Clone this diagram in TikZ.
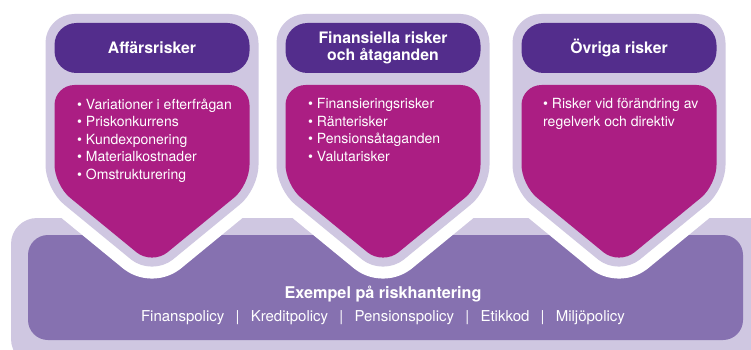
\documentclass[tikz,border=0pt]{standalone}
\usepackage{fontspec}
\setmainfont{TeX Gyre Heros}
\usetikzlibrary{positioning}

\definecolor{hdrpurple}{RGB}{83,45,140}
\definecolor{riskmagenta}{RGB}{171,30,131}
\definecolor{lavlight}{RGB}{207,199,225}
\definecolor{basepurple}{RGB}{134,113,176}

% outline of one shield, centred at x = #1
\newcommand{\shieldoutline}[1]{(#1-97.5,23) -- (#1+97.5,23) -- (#1+97.5,185) -- (#1,265) -- (#1-97.5,185) -- cycle}
\newcommand{\riskoutline}[1]{(#1-97.5,85) -- (#1+97.5,85) -- (#1+97.5,185) -- (#1,265) -- (#1-97.5,185) -- cycle}
\newcommand{\sep}{\hspace{0.75em}|\hspace{0.75em}}

\tikzset{
  gapline/.style={draw=white, line width=42pt, line join=round, rounded corners=20pt},
  shieldrim/.style={fill=lavlight, draw=lavlight, line width=18pt, line join=round, rounded corners=20pt},
  riskbox/.style={fill=riskmagenta, rounded corners=20pt},
  hdrbox/.style={fill=hdrpurple, rounded corners=22pt, minimum width=195pt, minimum height=50pt,
    inner sep=0pt, text=white, align=center, font=\bfseries\fontsize{15.8}{16.5}\selectfont},
  bulletlist/.style={anchor=north west, inner sep=0pt, align=left, text=white,
    font=\fontsize{14}{17.5}\selectfont}
}

\begin{document}
\begin{tikzpicture}[x=1pt, y=-1pt]
  \useasboundingbox (0,0) rectangle (751,350);
  \clip (0,0) rectangle (751,350);

  % base band
  \fill[lavlight, rounded corners=26pt] (11,218) rectangle (775,365);
  \fill[basepurple, rounded corners=20pt] (28,235) rectangle (743,340);

  % shields
  \foreach \c in {152,383,619}
    \draw[gapline] \shieldoutline{\c};
  \foreach \c in {152,383,619}
    \filldraw[shieldrim] \shieldoutline{\c};
  \foreach \c in {152,383,619}
    \fill[riskbox] \riskoutline{\c};

  \node[hdrbox] (affars) at (152,48) {Affärsrisker};
  \node[hdrbox] (finans) at (383,48) {Finansiella risker\\och åtaganden};
  \node[hdrbox] (ovriga) at (619,48) {Övriga risker};

  \node[bulletlist] (affarslist) at (77,98.5)
    {• Variationer i efterfrågan\\• Priskonkurrens\\• Kundexponering\\• Materialkostnader\\• Omstrukturering};
  \node[bulletlist] (finanslist) at (308,98.5)
    {• Finansieringsrisker\\• Ränterisker\\• Pensionsåtaganden\\• Valutarisker};
  \node[bulletlist] (ovrigalist) at (543,98.5)
    {• Risker vid förändring av\\regelverk och direktiv};

  % risk handling
  \node[text=white, font=\bfseries\fontsize{16.2}{18}\selectfont] (hantering) at (383,294) {Exempel på riskhantering};
  \node[text=white, font=\fontsize{15}{17}\selectfont] (policyer) at (383,318)
    {Finanspolicy\sep Kreditpolicy\sep Pensionspolicy\sep Etikkod\sep Miljöpolicy};
\end{tikzpicture}
\end{document}
